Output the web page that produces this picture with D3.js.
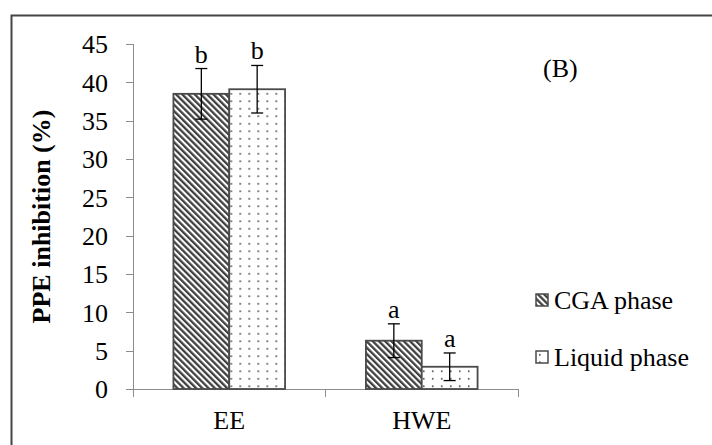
<!DOCTYPE html>
<html lang="en">
<head>
	<meta charset="UTF-8">
	<title>PPE inhibition</title>
	<script src="https://d3js.org/d3.v7.min.js"></script>
	<style>
		body { margin: 0; background-color: white; }
		svg { display: block; background-color: white; }
		text { font-family: "Liberation Serif", "Times New Roman", serif; fill: black; }
		.axis path, .axis line { fill: none; stroke: #8c8c8c; shape-rendering: crispEdges; }
		.axis text { font-size: 26px; }
	</style>
</head>
<body>
	<script>
		// data
		var categories = ['EE', 'HWE'];
		var seriesNames = ['CGA phase', 'Liquid phase'];
		var cgaValues = [38.5, 6.3];
		var liquidValues = [39.1, 2.9];
		var cgaErrors = [3.3, 2.2];
		var liquidErrors = [3.1, 1.8];
		var cgaLetters = ['b', 'a'];
		var liquidLetters = ['b', 'a'];
		var yTicks = [0, 5, 10, 15, 20, 25, 30, 35, 40, 45];

		var width = 712, height = 445;
		var margin = {top: 44, left: 133, bottom: 56, right: 194};

		var svg = d3.select('body').append('svg')
			.attr('width', width)
			.attr('height', height);

		// patterns
		var defs = svg.append('defs');
		var stripe = defs.append('pattern')
			.attr('id', 'stripes')
			.attr('patternUnits', 'userSpaceOnUse')
			.attr('width', 4.4).attr('height', 4.4)
			.attr('patternTransform', 'rotate(-45)');
		stripe.append('rect').attr('width', 4.4).attr('height', 4.4).attr('fill', '#fff');
		stripe.append('rect').attr('width', 2.3).attr('height', 4.4).attr('fill', '#3f3f3f');

		var dots = defs.append('pattern')
			.attr('id', 'dots')
			.attr('patternUnits', 'userSpaceOnUse')
			.attr('width', 9).attr('height', 7.5);
		dots.append('rect').attr('width', 9).attr('height', 7.5).attr('fill', '#fff');
		dots.append('rect').attr('x', 3).attr('y', 3).attr('width', 1.6).attr('height', 1.6).attr('fill', '#444');

		// outer frame
		svg.append('rect')
			.attr('x', 11.5).attr('y', 15.5)
			.attr('width', width + 20).attr('height', height + 20)
			.attr('fill', 'none')
			.attr('stroke', '#454545')
			.attr('stroke-width', 2);

		var y = d3.scaleLinear()
			.domain([0, 45])
			.range([height - margin.bottom, margin.top]);

		var x0 = d3.scaleBand()
			.domain(categories)
			.range([margin.left, width - margin.right]);

		var groupW = x0.bandwidth() * 0.58;
		var x1 = d3.scaleBand()
			.domain(seriesNames)
			.range([0, groupW]);

		var fills = {'CGA phase': 'url(#stripes)', 'Liquid phase': 'url(#dots)'};

		var rows = categories.map(function(c, i) {
			return [
				{cat: c, s: seriesNames[0], v: cgaValues[i], e: cgaErrors[i], l: cgaLetters[i]},
				{cat: c, s: seriesNames[1], v: liquidValues[i], e: liquidErrors[i], l: liquidLetters[i]}
			];
		});

		// axes
		svg.append('g')
			.attr('class', 'axis')
			.attr('transform', 'translate(' + margin.left + ',0)')
			.call(d3.axisLeft(y).tickValues(yTicks).tickSize(7).tickPadding(18).tickSizeOuter(0))
			.call(function(g) { g.select('.domain').attr('d', 'M0,' + y(45) + 'V' + (y(0) + 8)); })
			.call(function(g) { g.selectAll('text').attr('dy', '0.34em'); });

		var xAxis = svg.append('g')
			.attr('class', 'axis')
			.attr('transform', 'translate(0,' + y(0) + ')');
		xAxis.append('line')
			.attr('x1', margin.left - 7).attr('x2', width - margin.right)
			.attr('y1', 0).attr('y2', 0);
		xAxis.selectAll('line.tk')
			.data([margin.left, x0('HWE'), width - margin.right])
			.enter().append('line')
			.attr('class', 'tk')
			.attr('x1', function(d) { return d; })
			.attr('x2', function(d) { return d; })
			.attr('y1', 0).attr('y2', 8);
		xAxis.selectAll('text')
			.data(categories)
			.enter().append('text')
			.attr('x', function(d) { return x0(d) + x0.bandwidth() / 2; })
			.attr('y', 40)
			.attr('text-anchor', 'middle')
			.text(function(d) { return d; });

		// bars
		var groups = svg.selectAll('.grp')
			.data(rows)
			.enter().append('g')
			.attr('class', 'grp')
			.attr('transform', function(d) {
				return 'translate(' + (x0(d[0].cat) + (x0.bandwidth() - groupW) / 2) + ',0)';
			});

		groups.selectAll('rect')
			.data(function(d) { return d; })
			.enter().append('rect')
			.attr('x', function(d) { return x1(d.s); })
			.attr('y', function(d) { return y(d.v); })
			.attr('width', x1.bandwidth())
			.attr('height', function(d) { return y(0) - y(d.v); })
			.attr('fill', function(d) { return fills[d.s]; })
			.attr('stroke', '#4a4a4a')
			.attr('stroke-width', 1.8);

		// error bars
		var eb = groups.selectAll('.err')
			.data(function(d) { return d; })
			.enter().append('g')
			.attr('class', 'err')
			.attr('stroke', 'black')
			.attr('stroke-width', 1.3);
		eb.append('line')
			.attr('x1', function(d) { return x1(d.s) + x1.bandwidth() / 2; })
			.attr('x2', function(d) { return x1(d.s) + x1.bandwidth() / 2; })
			.attr('y1', function(d) { return y(d.v + d.e); })
			.attr('y2', function(d) { return y(d.v - d.e); });
		[1, -1].forEach(function(sign) {
			eb.append('line')
				.attr('x1', function(d) { return x1(d.s) + x1.bandwidth() / 2 - 6; })
				.attr('x2', function(d) { return x1(d.s) + x1.bandwidth() / 2 + 6; })
				.attr('y1', function(d) { return y(d.v + sign * d.e); })
				.attr('y2', function(d) { return y(d.v + sign * d.e); });
		});

		// significance letters
		groups.selectAll('.lbl')
			.data(function(d) { return d; })
			.enter().append('text')
			.attr('class', 'lbl')
			.attr('x', function(d) { return x1(d.s) + x1.bandwidth() / 2; })
			.attr('y', function(d) { return y(d.v + d.e) - 6; })
			.attr('text-anchor', 'middle')
			.style('font-size', '26px')
			.text(function(d) { return d.l; });

		// y title
		svg.append('text')
			.attr('transform', 'translate(50,' + ((y(0) + y(45)) / 2) + ') rotate(-90)')
			.attr('text-anchor', 'middle')
			.style('font-size', '26px')
			.style('font-weight', 'bold')
			.text('PPE inhibition (%)');

		// panel label
		svg.append('text')
			.attr('x', 543).attr('y', 77)
			.style('font-size', '26px')
			.text('(B)');

		// legend
		var leg = svg.selectAll('.leg')
			.data(seriesNames)
			.enter().append('g')
			.attr('class', 'leg')
			.attr('transform', function(d, i) { return 'translate(536,' + (294 + i * 57) + ')'; });
		leg.append('rect')
			.attr('width', 12).attr('height', 12)
			.attr('fill', function(d) { return fills[d]; })
			.attr('stroke', '#4a4a4a')
			.attr('stroke-width', 1.5);
		leg.append('text')
			.attr('x', 18).attr('y', 15)
			.style('font-size', '26px')
			.text(function(d) { return d; });
	</script>
</body>
</html>
